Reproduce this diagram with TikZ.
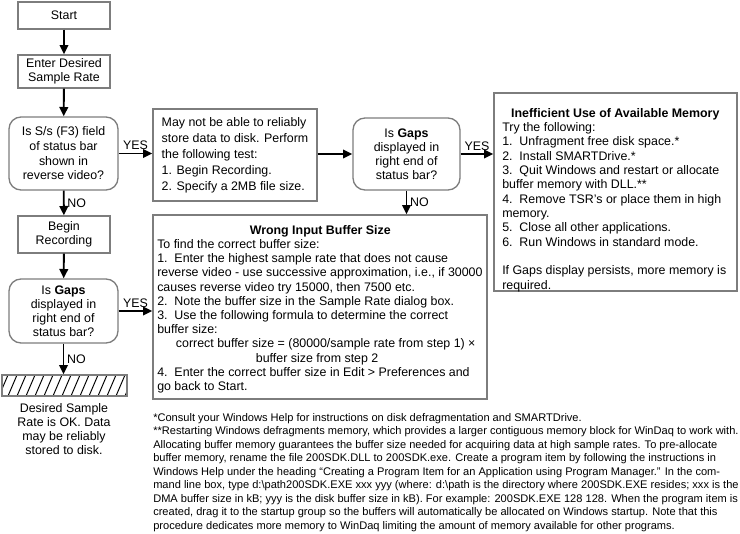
\documentclass[tikz,border=0pt]{standalone}
\usepackage{fontspec}
\setmainfont{Liberation Sans}
\usetikzlibrary{arrows.meta}
\definecolor{boxgray}{RGB}{125,125,125}
\begin{document}
\begin{tikzpicture}[x=0.75pt,y=-0.75pt,
  every node/.style={font=\fontsize{9.3}{10.5}\selectfont, inner sep=0pt},
  box/.style={draw=boxgray, line width=1pt, align=center},
  dec/.style={box, rounded corners=9pt},
  txt/.style={align=left},
  lbl/.style={font=\fontsize{9.3}{10.5}\selectfont, inner sep=2pt},
  arr/.style={-{Triangle[length=7pt,width=6.5pt]}, line width=1.4pt, black}]
\useasboundingbox (0,0) rectangle (740,533);

% left column
\node[box, minimum width=69pt, minimum height=20.25pt] (start) at (64,15.5) {Start};
\node[box, minimum width=69pt, minimum height=24.75pt] (enter) at (64,71.5) {Enter Desired\\Sample Rate};
\node[dec, minimum width=81.75pt, minimum height=54.75pt, font=\fontsize{9.3}{11}\selectfont] (dec1) at (63.5,153.5)
  {Is S/s (F3) field\\of status bar\\shown in\\reverse video?};
\node[box, minimum width=69pt, minimum height=27.75pt] (begin) at (64,234.5) {Begin\\Recording};
\node[dec, minimum width=81.75pt, minimum height=48pt] (dec2) at (63.5,311)
  {Is \textbf{Gaps}\\displayed in\\right end of\\status bar?};
\node[draw=boxgray, line width=1pt, minimum width=93.75pt, minimum height=15.75pt] (hatch) at (64.5,385.5) {};
\begin{scope}
  \clip (2,375) rectangle (127,396);
  \foreach \i in {-10,-1,...,140} \draw[line width=0.7pt] (\i,396) -- (\i+9,375);
\end{scope}
\draw[draw=boxgray, line width=1pt] (2,375) rectangle (127,396);
\node[align=center] (ok) at (64,429) {Desired Sample\\Rate is OK. Data\\may be reliably\\stored to disk.};

% middle
\node[box, txt, minimum width=123pt, minimum height=69pt, font=\fontsize{9.3}{12}\selectfont] (test) at (235,155)
  {May not be able to reliably\\store data to disk. Perform\\the following test:\\1. Begin Recording.\\2. Specify a 2MB file size.};
\node[dec, minimum width=80.25pt, minimum height=54pt] (dec3) at (406.5,154)
  {Is \textbf{Gaps}\\displayed in\\right end of\\status bar?};
\node[box, minimum width=250.5pt, minimum height=138pt] (wrong) at (320,307) {};
\node[txt, anchor=north west, font=\fontsize{9.3}{10.65}\selectfont] (wrongtxt) at (157,225)
  {\makebox[244.5pt]{\textbf{Wrong Input Buffer Size}}\\
   To find the correct buffer size:\\
   1.\ \ Enter the highest sample rate that does not cause\\
   reverse video - use successive approximation, i.e., if 30000\\
   causes reverse video try 15000, then 7500 etc.\\
   2.\ \ Note the buffer size in the Sample Rate dialog box.\\
   3.\ \ Use the following formula to determine the correct\\
   buffer size:\\
   \hspace*{14pt}correct buffer size = (80000/sample rate from step 1) ×\\
   \hspace*{74pt}buffer size from step 2\\
   4.\ \ Enter the correct buffer size in Edit > Preferences and\\
   go back to Start.};

% right
\node[box, minimum width=182.25pt, minimum height=148.5pt] (mem) at (615.5,192) {};
\node[txt, anchor=north west, font=\fontsize{9.3}{10.75}\selectfont] (memtxt) at (502,108)
  {\makebox[169.5pt]{\textbf{Inefficient Use of Available Memory}}\\
   Try the following:\\
   1.\ \ Unfragment free disk space.*\\
   2.\ \ Install SMARTDrive.*\\
   3.\ \ Quit Windows and restart or allocate\\
   buffer memory with DLL.**\\
   4.\ \ Remove TSR’s or place them in high\\
   memory.\\
   5.\ \ Close all other applications.\\
   6.\ \ Run Windows in standard mode.\\
   \strut\\
   If Gaps display persists, more memory is\\
   required.};

% footnotes
\node[txt, anchor=north west, font=\fontsize{8.3}{10.1}\selectfont] (foot) at (153,413)
  {*Consult your Windows Help for instructions on disk defragmentation and SMARTDrive.\\
   **Restarting Windows defragments memory, which provides a larger contiguous memory block for WinDaq to work with.\\
   Allocating buffer memory guarantees the buffer size needed for acquiring data at high sample rates. To pre-allocate\\
   buffer memory, rename the file 200SDK.DLL to 200SDK.exe. Create a program item by following the instructions in\\
   Windows Help under the heading “Creating a Program Item for an Application using Program Manager.” In the com-\\
   mand line box, type d:\textbackslash path200SDK.EXE xxx yyy (where: d:\textbackslash path is the directory where 200SDK.EXE resides; xxx is the\\
   DMA buffer size in kB; yyy is the disk buffer size in kB). For example: 200SDK.EXE 128 128. When the program item is\\
   created, drag it to the startup group so the buffers will automatically be allocated on Windows startup. Note that this\\
   procedure dedicates more memory to WinDaq limiting the amount of memory available for other programs.};

% connectors
\draw[arr] (start) -- (enter);
\draw[arr] (enter) -- (dec1);
\draw[arr] (dec1) -- node[lbl, right] {NO} (begin);
\draw[arr] (begin) -- (dec2);
\draw[arr] (dec2.south) -- node[lbl, right] {NO} (dec2.south |- hatch.north);
\draw[arr] (dec1.east) -- node[lbl, above] {YES} (dec1.east -| test.west);
\draw[arr] (dec2.east) -- node[lbl, above] {YES} (dec2.east -| wrong.west);
\draw[arr] (test.east |- dec3.west) -- (dec3.west);
\draw[arr] (dec3.east) -- node[lbl, above] {YES} (dec3.east -| mem.west);
\draw[arr] (dec3.south) -- node[lbl, right] {NO} (dec3.south |- wrong.north);
\end{tikzpicture}
\end{document}
